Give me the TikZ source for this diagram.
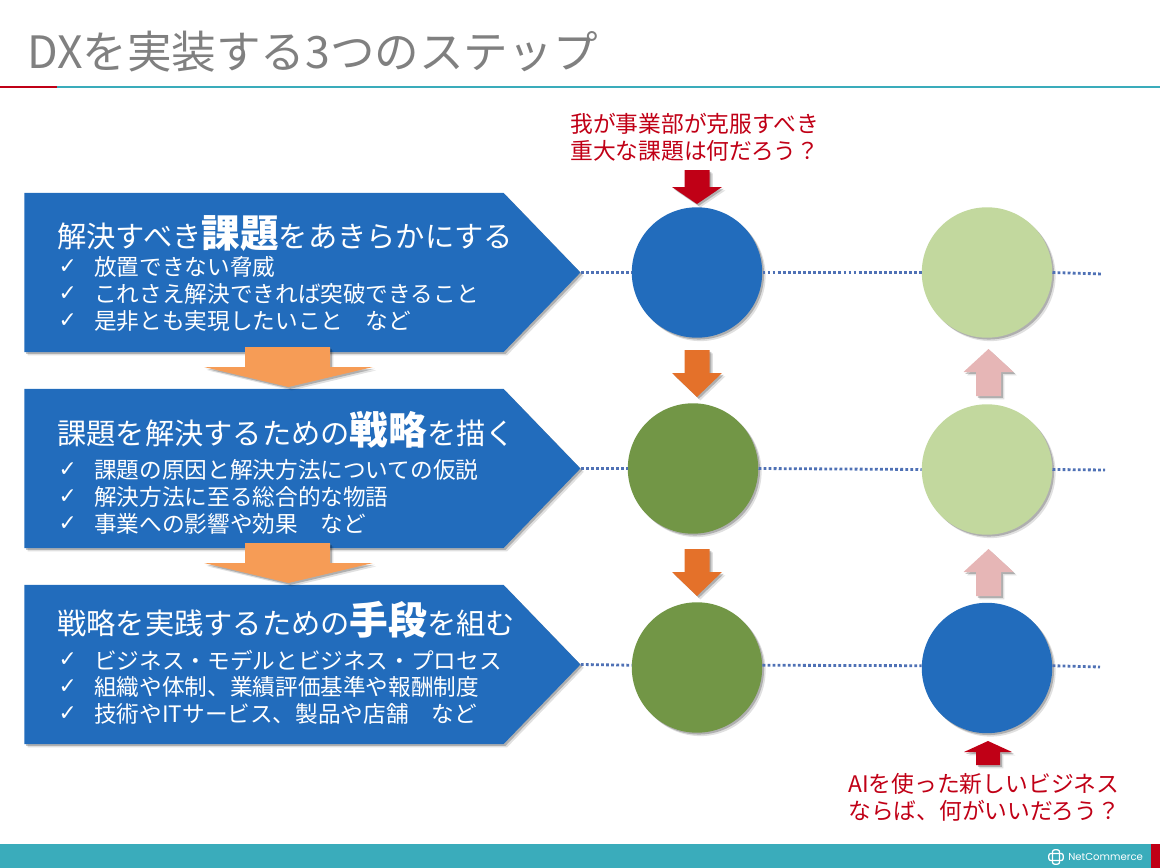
\documentclass[tikz,border=0pt]{standalone}
\usepackage{fontspec}
\setmainfont{Noto Sans CJK JP}
\newfontfamily\checkfont{DejaVu Sans}
\newfontfamily\logofont{Poppins}
\usetikzlibrary{shapes.symbols,shadows}
\definecolor{stepblue}{HTML}{226CBC}
\definecolor{darkgreen}{HTML}{729646}
\definecolor{lightgreen}{HTML}{C2D89E}
\definecolor{barteal}{HTML}{3AACBB}
\definecolor{alertred}{HTML}{C00016}
\definecolor{orangebig}{HTML}{F69C56}
\definecolor{orangesmall}{HTML}{E4712A}
\definecolor{softpink}{HTML}{E6B6B6}
\definecolor{dotblue}{HTML}{4F71B5}
\newcommand{\keyword}[1]{{\fontsize{27.5}{27.5}\selectfont\bfseries #1}}

\begin{document}
\begin{tikzpicture}[
  x=0.025cm, y=-0.025cm,
  softshadow/.style={
    drop shadow={shadow xshift=1.3pt, shadow yshift=-1.3pt, opacity=.22, fill=black},
    drop shadow={shadow xshift=2.4pt, shadow yshift=-2.4pt, opacity=.12, fill=black}},
  stepbox/.style={signal, signal to=east, signal pointer angle=92, fill=stepblue, inner sep=0pt, anchor=west,
    minimum width=13.9cm, minimum height=3.975cm, softshadow},
  steptitle/.style={anchor=base west, inner sep=0pt, text=white, font=\fontsize{20.8}{24}\selectfont},
  stepitem/.style={anchor=west, inner sep=0pt, text=white, font=\fontsize{16.1}{20}\selectfont,
    label={[inner sep=0pt, label distance=0.42cm, text=white, font=\checkfont\bfseries\fontsize{15.5}{16}\selectfont]left:✓}},
  dot/.style={circle, inner sep=0pt, minimum size=3.26cm, softshadow},
  note/.style={anchor=west, inner sep=0pt, text=alertred, font=\fontsize{16.2}{20}\selectfont},
  arrowbox/.style={softshadow},
  link/.style={dotblue, line width=2pt, dash pattern=on 2pt off 1.6pt},
  logoloop/.style={draw=white, rounded corners=1.6pt, line width=0.9pt, inner sep=0pt},
]
\useasboundingbox (0,0) rectangle (1160,868);

% ===== Header =====
\node[anchor=base west, inner sep=0pt, text=black!50, font=\fontsize{31.7}{34}\selectfont] (title) at (27,68) {DXを実装する3つのステップ};
\fill[barteal] (57,86) rectangle (1160,88);
\fill[alertred] (0,86) rectangle (57,88);

% ===== Footer =====
\fill[barteal] (0,844) rectangle (1151,868);
\fill[alertred] (1151,844) rectangle (1160,868);
\node[logoloop, minimum width=0.36cm, minimum height=0.18cm] (logoa) at (1056,857) {};
\node[logoloop, minimum width=0.18cm, minimum height=0.36cm] (logob) at (1056,857) {};
\node[anchor=west, inner sep=0pt, text=white, font=\logofont\fontsize{7.2}{9}\selectfont] (logotext) at (1068,857) {NetCommerce};

% ===== Row ends =====
\coordinate (end1) at (1102,274);
\coordinate (end2) at (1105,470);
\coordinate (end3) at (1100,667);

% ===== Left column: the three steps =====
\node[stepbox] (step1) at (24,272.5) {};
\node[stepbox] (step2) at (24,468.5) {};
\node[stepbox] (step3) at (24,664.5) {};

\fill[arrowbox, orangebig] (245,347) -- (330,347) -- (330,367) -- (373,367) -- (288.5,387) -- (204,367) -- (245,367) -- cycle;
\fill[arrowbox, orangebig] (245,543) -- (330,543) -- (330,563) -- (373,563) -- (288.5,583) -- (204,563) -- (245,563) -- cycle;

\node[steptitle] (title1) at (57,247) {解決すべき\keyword{課題}をあきらかにする};
\node[stepitem] (item11) at (94,267) {放置できない脅威};
\node[stepitem] (item12) at (94,294) {これさえ解決できれば突破できること};
\node[stepitem] (item13) at (94,321) {是非とも実現したいこと　など};

\node[steptitle] (title2) at (57,444) {課題を解決するための\keyword{戦略}を描く};
\node[stepitem] (item21) at (94,470) {課題の原因と解決方法についての仮説};
\node[stepitem] (item22) at (94,497) {解決方法に至る総合的な物語};
\node[stepitem] (item23) at (94,524) {事業への影響や効果　など};

\node[steptitle] (title3) at (57,634) {戦略を実践するための\keyword{手段}を組む};
\node[stepitem] (item31) at (94,660) {ビジネス・モデルとビジネス・プロセス};
\node[stepitem] (item32) at (94,687) {組織や体制、業績評価基準や報酬制度};
\node[stepitem] (item33) at (94,714) {技術やITサービス、製品や店舗　など};

% ===== Circles =====
\node[dot, fill=stepblue] (dota1) at (697,272.5) {};
\node[dot, fill=darkgreen] (dota2) at (693,468.5) {};
\node[dot, fill=darkgreen] (dota3) at (697,667.5) {};
\node[dot, fill=lightgreen] (dotb1) at (987,272.5) {};
\node[dot, fill=lightgreen] (dotb2) at (987,469.5) {};
\node[dot, fill=stepblue] (dotb3) at (987,668) {};

% dotted rows
\draw[link] (step1.east) -- (dota1.west);
\draw[link] (dota1.east) -- (dotb1.west);
\draw[link] (dotb1.east) -- (end1);
\draw[link] (step2.east) -- (dota2.west);
\draw[link] (dota2.east) -- (dotb2.west);
\draw[link] (dotb2.east) -- (end2);
\draw[link] (step3.east) -- (dota3.178);
\draw[link] (dota3.2) -- (dotb3.178);
\draw[link] (dotb3.2) -- (end3);

% ===== Small arrows =====
\fill[arrowbox, alertred] (684.5,170) -- (709.5,170) -- (709.5,187) -- (722,187) -- (697,204) -- (672,187) -- (684.5,187) -- cycle;
\fill[arrowbox, orangesmall] (684.5,350) -- (709.5,350) -- (709.5,373) -- (722,373) -- (697,397) -- (672,373) -- (684.5,373) -- cycle;
\fill[arrowbox, orangesmall] (684.5,549) -- (709.5,549) -- (709.5,572) -- (722,572) -- (697,596) -- (672,572) -- (684.5,572) -- cycle;
\fill[arrowbox, softpink] (976,396) -- (1001,396) -- (1001,372) -- (1013.5,372) -- (988.5,349) -- (963.5,372) -- (976,372) -- cycle;
\fill[arrowbox, softpink] (976,596) -- (1001,596) -- (1001,572) -- (1013.5,572) -- (988.5,549) -- (963.5,572) -- (976,572) -- cycle;
\fill[arrowbox, alertred] (976,765) -- (1000,765) -- (1000,752) -- (1012,752) -- (988,741) -- (964,752) -- (976,752) -- cycle;

% ===== Red questions =====
\node[note] (note11) at (570,123.5) {我が事業部が克服すべき};
\node[note] (note12) at (570,151) {重大な課題は何だろう？};
\node[note] (note21) at (848,784) {AIを使った新しいビジネス};
\node[note] (note22) at (848,811) {ならば、何がいいだろう？};

\end{tikzpicture}
\end{document}
